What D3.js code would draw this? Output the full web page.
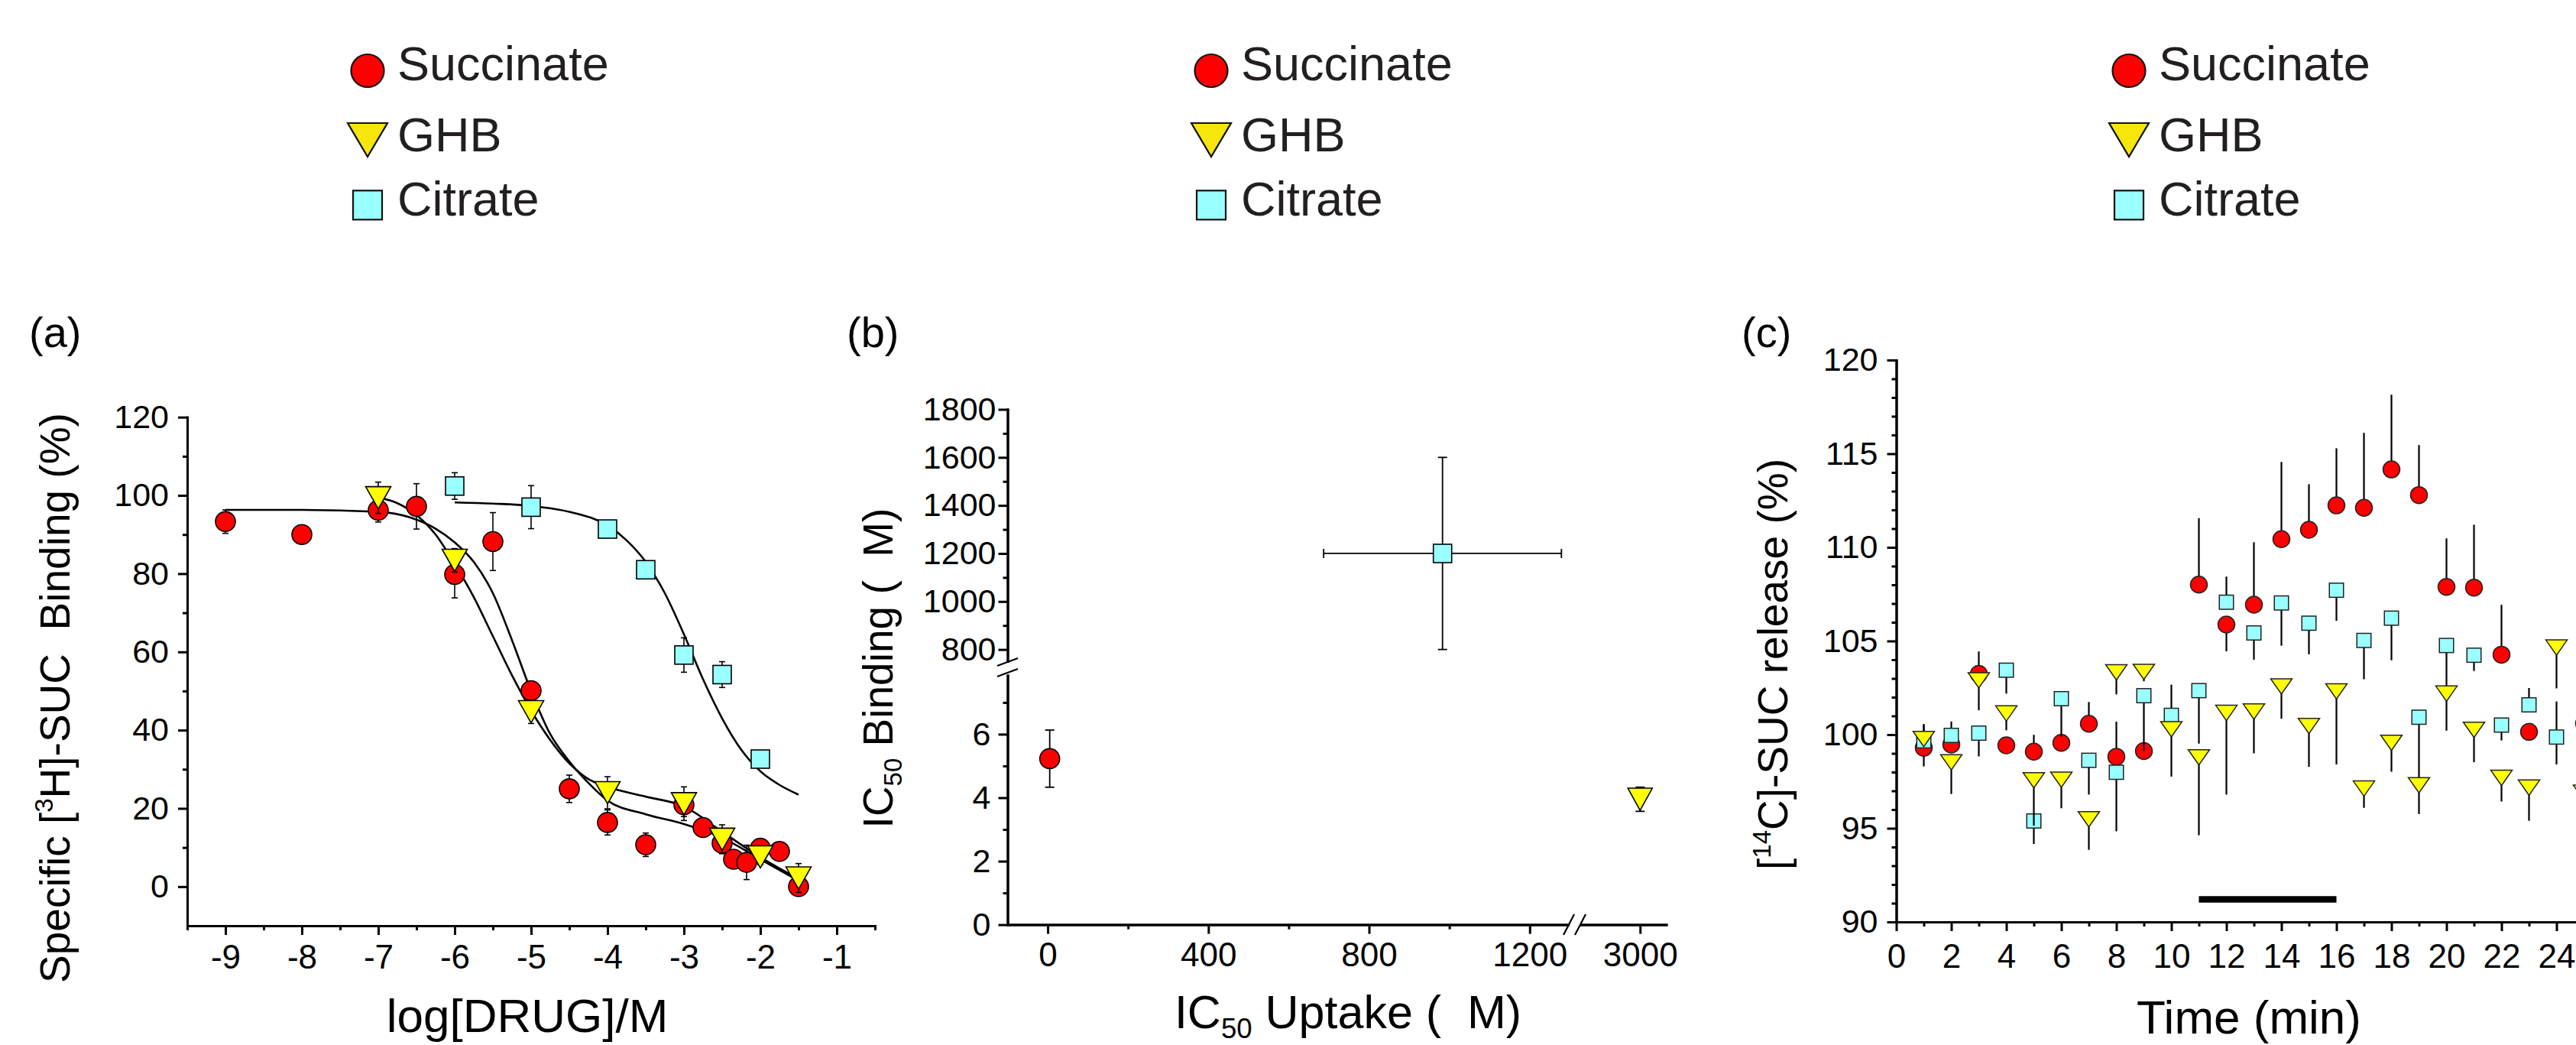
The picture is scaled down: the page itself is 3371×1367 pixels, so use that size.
<!DOCTYPE html>
<html>
<head>
<meta charset="utf-8">
<script src="https://cdn.jsdelivr.net/npm/d3@7"></script>
<style>
  body { margin: 0; background: #fff; }
  svg { display: block; }
  text { white-space: pre; }
</style>
</head>
<body>
<div id="chart"></div>
<script>
var width = 3371, height = 1367,
    font = '"Liberation Sans", Arial, sans-serif',
    fills = ["#ff0000", "#ffff00", "#99ffff"];

// legend
var legendNames = ["Succinate", "GHB", "Citrate"];

// (a) specific binding vs log[DRUG]/M
var aSuccX = [-9, -8, -7, -6.5, -6, -5.5, -5, -4.5, -4, -3.5, -3, -2.75, -2.5, -2.35, -2.18, -2, -1.75, -1.5];
var aSuccY = [93.3, 90, 96.2, 97.2, 79.8, 88.2, 50.1, 25, 16.4, 10.7, 20.9, 15.1, 11.1, 7.0, 6.2, 9.8, 9.0, 0.0];
var aSuccErr = [3, 0, 3, 5.8, 6, 7.4, 2, 3.5, 3.2, 3, 3, 0, 2, 0, 4.4, 0, 0, 0];
var aGhbX = [-7, -6, -5, -4, -3, -2.5, -2, -1.5];
var aGhbY = [99.4, 83.4, 44.7, 24.0, 21.2, 12.1, 7.6, 2.2];
var aGhbErr = [4, 3, 3, 4.1, 4.3, 3.7, 2, 3.7];
var aCitX = [-6, -5, -4, -3.5, -3, -2.5, -2];
var aCitY = [102.4, 97.0, 91.4, 81.0, 59.2, 54.2, 32.6];
var aCitErr = [3.4, 5.5, 1, 1, 4.4, 3.3, 1];
// fitted curves
var aSuccFitX = [-9, -8, -7, -6.5, -6.25, -6, -5.75, -5.5, -5.25, -5, -4.75, -4.5, -4.25, -4, -3.5, -3, -2.5, -2, -1.5];
var aSuccFitY = [96.3, 96.3, 95.8, 93.8, 91.5, 88, 83, 75, 63, 50, 39, 32, 26.5, 22, 18.5, 16, 12.5, 7, 1.5];
var aGhbFitX = [-7, -6.75, -6.5, -6.25, -6, -5.75, -5.5, -5.25, -5, -4.75, -4.5, -4.25, -4, -3.5, -3, -2.5, -2, -1.5];
var aGhbFitY = [99.5, 98, 95, 90, 82.5, 74, 64, 54, 45, 37.5, 31.5, 27.5, 25.5, 23, 20.5, 14, 7.5, 2];
var aCitFitX = [-6, -5.5, -5, -4.5, -4, -3.75, -3.5, -3.25, -3, -2.75, -2.5, -2.25, -2, -1.75, -1.5];
var aCitFitY = [98.2, 97.9, 97.3, 95.8, 92.3, 88.5, 83, 75, 64.5, 53, 43, 35, 29.5, 26, 23.5];

// (b) IC50 binding vs IC50 uptake  (order: Succinate, GHB, Citrate)
var bUptake = [5, 3000, 983];
var bUptakeErr = [0, 0, 296];
var bBinding = [5.23, 3.95, 1200];
var bBindingErr = [0.9, 0.38, 400];

// (c) [14C]-SUC release vs time
var cTime = [1, 2, 3, 4, 5, 6, 7, 8, 9, 10, 11, 12, 13, 14, 15, 16, 17, 18, 19, 20, 21, 22, 23, 24, 25];
var cSucc = [99.3, 99.47, 103.24, 99.43, 99.09, 99.56, 100.58, 98.82, 99.12, null, 108.01, 105.88, 106.94, 110.44, 110.94, 112.24, 112.11, 114.16, 112.79, 107.89, 107.85, 104.27, 100.15, null, 100.6];
var cSuccUp = [1.2, 0, 1.2, 0, 0.9, 0, 1.16, 1.87, 0, 0, 3.55, 0, 3.33, 4.12, 2.43, 3.05, 4.0, 3.99, 2.67, 2.59, 3.36, 2.66, 0, 0, 0];
var cSuccDown = [1.0, 0, 0, 0, 0, 0, 0, 0, 0, 0, 0, 1.43, 0, 0, 0, 0, 0, 0, 0, 0, 0, 0, 0, 0, 0];
var cGhb = [99.77, 98.52, 102.9, 101.13, 97.56, 97.59, 95.48, 103.33, 103.35, 100.29, 98.79, 101.16, 101.23, 102.57, 100.46, 102.31, 97.12, 99.56, 97.3, 102.19, 100.26, 97.69, 97.17, 104.65, 96.9];
var cGhbUp = [0.8, 0, 0, 0, 0, 0, 0, 0, 0, 0, 0, 0, 0, 0, 0, 0, 0, 0, 0, 0, 0, 0, 0, 0, 0];
var cGhbDown = [0, 1.69, 1.6, 0.9, 2.42, 1.52, 1.63, 1.18, 0.5, 2.53, 4.16, 4.36, 2.23, 1.72, 2.18, 3.9, 1.03, 1.54, 1.54, 1.98, 1.73, 1.26, 1.77, 2.18, 0];
var cCit = [99.67, 99.96, 100.08, 103.44, 95.39, 101.92, 98.63, 97.99, 102.08, 101.03, 102.35, 107.07, 105.43, 107.03, 105.95, 107.71, 105.03, 106.22, 100.93, 104.76, 104.24, 100.51, 101.59, 99.87, 98.3];
var cCitUp = [0, 0.74, 0, 0, 0, 0, 0, 0, 0, 1.64, 0, 1.37, 0, 0, 0, 0, 0, 0, 0, 0, 0, 0, 0.9, 1.9, 0];
var cCitDown = [0, 0, 1.24, 1.25, 1.23, 2.02, 1.83, 3.15, 2.96, 0, 2.83, 0, 1.43, 2.28, 1.66, 1.63, 2.07, 2.25, 3.4, 2.16, 0.84, 0.82, 0, 1.46, 0];
var cBar = [11, 16], cBarLevel = 91.2;   // application period

var svg = d3.select("#chart").append("svg")
    .attr("width", width)
    .attr("height", height)
    .attr("font-family", font);
svg.append("rect").attr("width", width).attr("height", height).attr("fill", "#fff");

// ---------- helpers ----------
function styleAxis(sel, size) {
    sel.select(".domain").attr("stroke", "#000").attr("stroke-width", 3).attr("stroke-linecap", "square");
    sel.selectAll(".tick line").attr("stroke", "#000").attr("stroke-width", 3);
    sel.selectAll(".tick text").attr("font-size", size).attr("font-family", font).attr("fill", "#000");
}

function leftAxis(x, scale, majors, minors, pad, size) {
    svg.append("g").attr("transform", "translate(" + x + ",0)")
        .call(d3.axisLeft(scale).tickValues(minors).tickSize(6).tickFormat("").tickSizeOuter(0))
        .call(styleAxis, size);
    svg.append("g").attr("transform", "translate(" + x + ",0)")
        .call(d3.axisLeft(scale).tickValues(majors).tickSize(12).tickPadding(pad).tickSizeOuter(0)
            .tickFormat(function (d) { return String(d); }))
        .call(styleAxis, size);
}

function bottomAxis(y, scale, majors, minors, pad, size) {
    svg.append("g").attr("transform", "translate(0," + y + ")")
        .call(d3.axisBottom(scale).tickValues(minors).tickSize(6).tickFormat("").tickSizeOuter(0))
        .call(styleAxis, size);
    svg.append("g").attr("transform", "translate(0," + y + ")")
        .call(d3.axisBottom(scale).tickValues(majors).tickSize(12).tickPadding(pad).tickSizeOuter(0)
            .tickFormat(function (d) { return String(d); }))
        .call(styleAxis, size);
}

// kind 0 circle, 1 down triangle, 2 square
function marker(g, kind, x, y, sz, stroke, sw, fill) {
    var m;
    if (kind === 0) {
        m = g.append("circle").attr("cx", x).attr("cy", y).attr("r", sz.r);
    } else if (kind === 1) {
        var w = sz.tw / 2, h = sz.th / 2;
        m = g.append("path").attr("d", "M" + (x - w) + "," + (y - h) + "L" + (x + w) + "," + (y - h) + "L" + x + "," + (y + h) + "Z")
            .attr("stroke-linejoin", "miter");
    } else {
        m = g.append("rect").attr("x", x - sz.s / 2).attr("y", y - sz.s / 2).attr("width", sz.s).attr("height", sz.s);
    }
    m.attr("fill", fill || fills[kind]).attr("stroke", stroke).attr("stroke-width", sw);
}

function vbar(g, x, y1, y2, cap, sw) {
    g.append("line").attr("x1", x).attr("x2", x).attr("y1", y1).attr("y2", y2)
        .attr("stroke", "#000").attr("stroke-width", sw);
    if (cap) {
        [y1, y2].forEach(function (yy) {
            g.append("line").attr("x1", x - cap).attr("x2", x + cap).attr("y1", yy).attr("y2", yy)
                .attr("stroke", "#000").attr("stroke-width", sw);
        });
    }
}

function title(x, y, size, parts, rotate) {
    var t = svg.append("text")
        .attr("transform", "translate(" + x + "," + y + ")" + (rotate ? " rotate(-90)" : ""))
        .attr("text-anchor", "middle")
        .attr("font-size", size)
        .attr("fill", "#000");
    parts.forEach(function (p) {
        var ts = t.append("tspan").text(p.t);
        if (p.sup) ts.attr("font-size", size * 0.6).attr("dy", -size * 0.4);
        if (p.sub) ts.attr("font-size", size * 0.6).attr("dy", size * 0.22);
        if (p.back) ts.attr("dy", p.back);
    });
}

function label(x, y, txt) {
    svg.append("text").attr("x", x).attr("y", y).attr("font-size", 56).attr("fill", "#000").text(txt);
}

// ---------- legends ----------
var legendX = [481, 1585, 2786],
    legendRowY = [92.5, 183, 268.3],
    legendBase = [105, 198, 282],
    legendSize = { r: 21.5, tw: 52, th: 44, s: 38 },
    legendFills = ["#ff0000", "#f6e60a", "#99ffff"];
legendX.forEach(function (lx) {
    var g = svg.append("g");
    legendNames.forEach(function (name, i) {
        marker(g, i, lx, legendRowY[i], legendSize, "#111", 2.2, legendFills[i]);
        g.append("text").attr("x", lx + 39).attr("y", legendBase[i])
            .attr("font-size", 63).attr("fill", "#231f20").text(name);
    });
});

// ---------- panel (a) ----------
var xA = d3.scaleLinear().domain([-9.5, -0.5]).range([245, 1145]);
var yA = d3.scaleLinear().domain([-10, 120]).range([1211, 545.7]);

leftAxis(245, yA, d3.range(0, 121, 20), d3.range(10, 120, 20), 12, 43);
bottomAxis(1211, xA, d3.range(-9, 0, 1), d3.range(-9.5, 0, 1), 13, 44);

var gA = svg.append("g");
var fitLine = d3.line().curve(d3.curveMonotoneX)
    .x(function (d) { return xA(d[0]); })
    .y(function (d) { return yA(d[1]); });
[[aSuccFitX, aSuccFitY], [aGhbFitX, aGhbFitY], [aCitFitX, aCitFitY]].forEach(function (c) {
    gA.append("path")
        .attr("d", fitLine(d3.zip(c[0], c[1])))
        .attr("fill", "none").attr("stroke", "#000").attr("stroke-width", 2.6);
});

var sizeA = { r: 13, tw: 33, th: 29, s: 24 };
[[aSuccX, aSuccY, aSuccErr], [aGhbX, aGhbY, aGhbErr], [aCitX, aCitY, aCitErr]].forEach(function (s, k) {
    s[0].forEach(function (x, i) {
        if (s[2][i] > 0) vbar(gA, xA(x), yA(s[1][i] + s[2][i]), yA(s[1][i] - s[2][i]), 4, 1.6);
    });
    s[0].forEach(function (x, i) {
        marker(gA, k, xA(x), yA(s[1][i]), sizeA, "#000", 1.6);
    });
});

label(38, 454, "(a)");
title(91, 913, 55, [{ t: "Specific [" }, { t: "3", sup: true }, { t: "H]-SUC  Binding (%)", back: 55 * 0.4 }], true);
title(690, 1350, 62, [{ t: "log[DRUG]/M" }], false);

// ---------- panel (b) ----------
var xB1 = d3.scaleLinear().domain([-100, 1295]).range([1318.5, 2051.7]);
var xB2 = d3.scaleLinear().domain([2853, 3065]).range([2069, 2180.4]);
var yB1 = d3.scaleLinear().domain([752, 1800]).range([864.7, 535.5]);
var yB2 = d3.scaleLinear().domain([0, 7.85]).range([1209.6, 883.6]);
function bx(v) { return v > 2000 ? xB2(v) : xB1(v); }
function by(v) { return v > 500 ? yB1(v) : yB2(v); }

leftAxis(1318.5, yB1, d3.range(800, 1801, 200), d3.range(900, 1800, 200), 3, 43);
leftAxis(1318.5, yB2, [0, 2, 4, 6], [1, 3, 5, 7], 10, 43);
bottomAxis(1209.6, xB1, [0, 400, 800, 1200], [200, 600, 1000], 11, 44);
bottomAxis(1209.6, xB2, [3000], [], 11, 44);

// axis break marks
var gBrk = svg.append("g").attr("stroke", "#000").attr("stroke-width", 2.2);
[866, 880].forEach(function (yy) {
    gBrk.append("line").attr("x1", 1305).attr("y1", yy + 5).attr("x2", 1332).attr("y2", yy - 5);
});
[2053, 2068].forEach(function (xx) {
    gBrk.append("line").attr("x1", xx - 7).attr("y1", 1223).attr("x2", xx + 7).attr("y2", 1196);
});

var gB = svg.append("g");
var sizeB = { r: 13, tw: 32, th: 29, s: 24 };
bUptake.forEach(function (u, i) {
    var b = bBinding[i];
    if (bBindingErr[i] > 0) vbar(gB, bx(u), by(b + bBindingErr[i]), by(b - bBindingErr[i]), 6, 1.8);
    if (bUptakeErr[i] > 0) {
        var xl = bx(u - bUptakeErr[i]), xr = bx(u + bUptakeErr[i]), yy = by(b);
        gB.append("line").attr("x1", xl).attr("x2", xr).attr("y1", yy).attr("y2", yy)
            .attr("stroke", "#000").attr("stroke-width", 1.8);
        [xl, xr].forEach(function (xx) {
            gB.append("line").attr("x1", xx).attr("x2", xx).attr("y1", yy - 6).attr("y2", yy + 6)
                .attr("stroke", "#000").attr("stroke-width", 1.8);
        });
    }
});
bUptake.forEach(function (u, i) {
    marker(gB, i, bx(u), by(bBinding[i]), sizeB, "#000", 1.6);
});

label(1108, 454, "(b)");
title(1168, 874, 55, [{ t: "IC" }, { t: "50", sub: true }, { t: " Binding (  M)", back: -55 * 0.22 }], true);
title(1764, 1345, 61, [{ t: "IC" }, { t: "50", sub: true }, { t: " Uptake (  M)", back: -61 * 0.22 }], false);

// ---------- panel (c) ----------
var xC = d3.scaleLinear().domain([0, 26]).range([2481.5, 3417.5]);
var yC = d3.scaleLinear().domain([90, 120]).range([1206, 471]);

leftAxis(2481.5, yC, d3.range(90, 121, 5), d3.range(91, 120, 1).filter(function (v) { return v % 5 !== 0; }), 12, 43);
// the axis runs past the right edge; only the labels that fit are drawn
bottomAxis(1206, xC, d3.range(0, 25, 2), d3.range(1, 26, 2), 17, 44);

var gC = svg.append("g");
gC.append("line")
    .attr("x1", xC(cBar[0])).attr("x2", xC(cBar[1]))
    .attr("y1", yC(cBarLevel)).attr("y2", yC(cBarLevel))
    .attr("stroke", "#000").attr("stroke-width", 8.5);

var sizeC = { r: 11, tw: 28, th: 20, s: 18.5 };
// draw order: succinate, citrate, GHB
[[0, cSucc, cSuccUp, cSuccDown], [2, cCit, cCitUp, cCitDown], [1, cGhb, cGhbUp, cGhbDown]].forEach(function (s) {
    cTime.forEach(function (t, i) {
        var v = s[1][i];
        if (v === null) return;
        if (s[2][i] > 0) vbar(gC, xC(t), yC(v), yC(v + s[2][i]), 0, 2.2);
        if (s[3][i] > 0) vbar(gC, xC(t), yC(v), yC(v - s[3][i]), 0, 2.2);
    });
    cTime.forEach(function (t, i) {
        var v = s[1][i];
        if (v === null) return;
        marker(gC, s[0], xC(t), yC(v), sizeC, "#222", 1.5);
    });
});

label(2279, 454, "(c)");
title(2339, 869, 55, [{ t: "[" }, { t: "14", sup: true }, { t: "C]-SUC release (%)", back: 55 * 0.4 }], true);
title(2943, 1352, 62, [{ t: "Time (min)" }], false);
</script>
</body>
</html>
